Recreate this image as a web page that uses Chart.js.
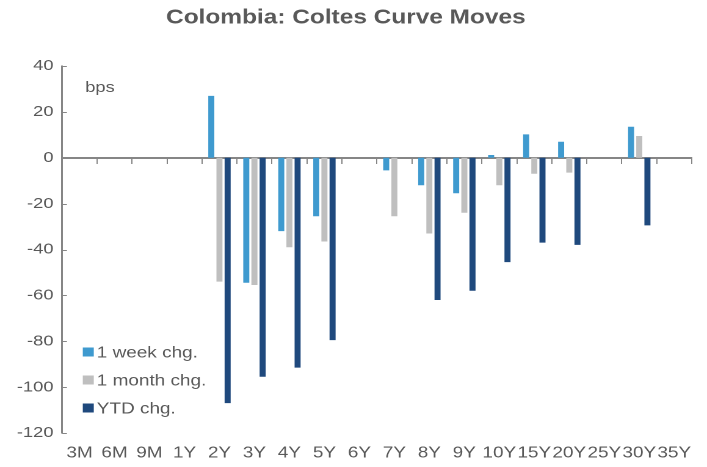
<!DOCTYPE html>
<html>
<head>
<meta charset="utf-8">
<script src="https://cdn.jsdelivr.net/npm/chart.js@4"></script>
<style>
  html, body { margin: 0; padding: 0; background: #fff; }
  /* the original chart is drawn wider than tall, so stretch it a bit */
  #wrap { position: absolute; left: 0; top: 0; width: 579.5px; height: 467px; transform: scaleX(1.22); transform-origin: 0 0; }
</style>
</head>
<body>
<div id="wrap"><canvas id="curveChart"></canvas></div>
<script>
// categorias del eje X (plazos de la curva)
const categories = ["3M", "6M", "9M", "1Y", "2Y", "3Y", "4Y", "5Y", "6Y", "7Y", "8Y", "9Y", "10Y", "15Y", "20Y", "25Y", "30Y", "35Y"];

// cambios en pb
const weekChg  = [null, null, null, null,   27,  -54.5, -32,   -25.5, null, -5.5, -12, -15.5,  1.2,  10.2,  7,   null, 13.5, null];
const monthChg = [null, null, null, null,  -54,  -55.5, -39,   -36.5, null, -25.5, -33, -24,  -12,   -7,   -6.5, null,  9.5, null];
const ytdChg   = [null, null, null, null, -107,  -95.5, -91.5, -79.5, null, null, -62, -58,  -45.5, -37,  -38,  null, -29.5, null];

const seriesNames = ["1 week chg.", "1 month chg.", "YTD chg."];
const yTicks = [40, 20, 0, -20, -40, -60, -80, -100, -120];

const textColor = "#595959";
const axisColor = "#868686";

Chart.defaults.font.family = "'Liberation Sans', Arial, sans-serif";
Chart.defaults.color = textColor;

// leyenda, etiqueta "bps" y marcas internas del eje Y
const extras = {
  id: "extras",
  afterDraw(chart) {
    const { ctx, chartArea, scales } = chart;
    ctx.save();

    ctx.strokeStyle = axisColor;
    ctx.lineWidth = 1;
    scales.y.ticks.forEach(t => {
      const y = Math.round(scales.y.getPixelForValue(t.value)) + 0.5;
      ctx.beginPath();
      ctx.moveTo(chartArea.left, y);
      ctx.lineTo(chartArea.left + 4, y);
      ctx.stroke();
    });

    ctx.fillStyle = textColor;
    ctx.font = "15px 'Liberation Sans', Arial, sans-serif";
    ctx.textBaseline = "middle";
    ctx.fillText("bps", chartArea.left + 19, chartArea.top + 22);

    ctx.font = "15.5px 'Liberation Sans', Arial, sans-serif";
    chart.data.datasets.forEach((ds, i) => {
      const y = chartArea.bottom - 81 + i * 28;
      ctx.fillStyle = ds.backgroundColor;
      ctx.fillRect(chartArea.left + 17, y - 4.5, 9, 9);
      ctx.fillStyle = textColor;
      ctx.fillText(ds.label, chartArea.left + 28.5, y + 1);
    });
    ctx.restore();
  }
};

new Chart(document.getElementById("curveChart").getContext("2d"), {
  type: "bar",
  data: {
    labels: categories,
    datasets: [
      { label: seriesNames[0], data: weekChg,  backgroundColor: "#3F9ACF" },
      { label: seriesNames[1], data: monthChg, backgroundColor: "#BFBFBF" },
      { label: seriesNames[2], data: ytdChg,   backgroundColor: "#1F497D" }
    ]
  },
  options: {
    responsive: true,
    maintainAspectRatio: false,
    devicePixelRatio: 2,
    animation: false,
    layout: { padding: { left: 0, right: 13, top: 0, bottom: 0 } },
    datasets: { bar: { categoryPercentage: 0.7, barPercentage: 0.74 } },
    plugins: {
      legend: { display: false },
      tooltip: { enabled: false },
      title: {
        display: true,
        text: "Colombia: Coltes Curve Moves",
        color: textColor,
        font: { size: 20, weight: "bold" },
        padding: { top: 6, bottom: 36 }
      }
    },
    scales: {
      x: {
        position: "bottom",
        grid: { display: false, drawTicks: false },
        border: { display: false },
        ticks: { font: { size: 15.5 }, padding: 11, maxRotation: 0, autoSkip: false },
        afterFit: s => { s.height = 34; }
      },
      // eje en cero con las marcas entre categorias
      x2: {
        type: "category",
        labels: categories,
        position: { y: 0 },
        offset: true,
        grid: { offset: true, drawOnChartArea: false, drawTicks: true, tickLength: 5, color: axisColor, lineWidth: 1 },
        border: { display: true, color: axisColor, width: 2 },
        ticks: { display: false }
      },
      y: {
        min: -120,
        max: 40,
        afterBuildTicks: s => { s.ticks = yTicks.map(v => ({ value: v })); },
        grid: { display: false, drawTicks: false },
        border: { display: true, color: axisColor, width: 1.5 },
        ticks: { font: { size: 15 }, padding: 7 },
        afterFit: s => { s.width = 50.8; }
      }
    }
  },
  plugins: [extras]
});
</script>
</body>
</html>
